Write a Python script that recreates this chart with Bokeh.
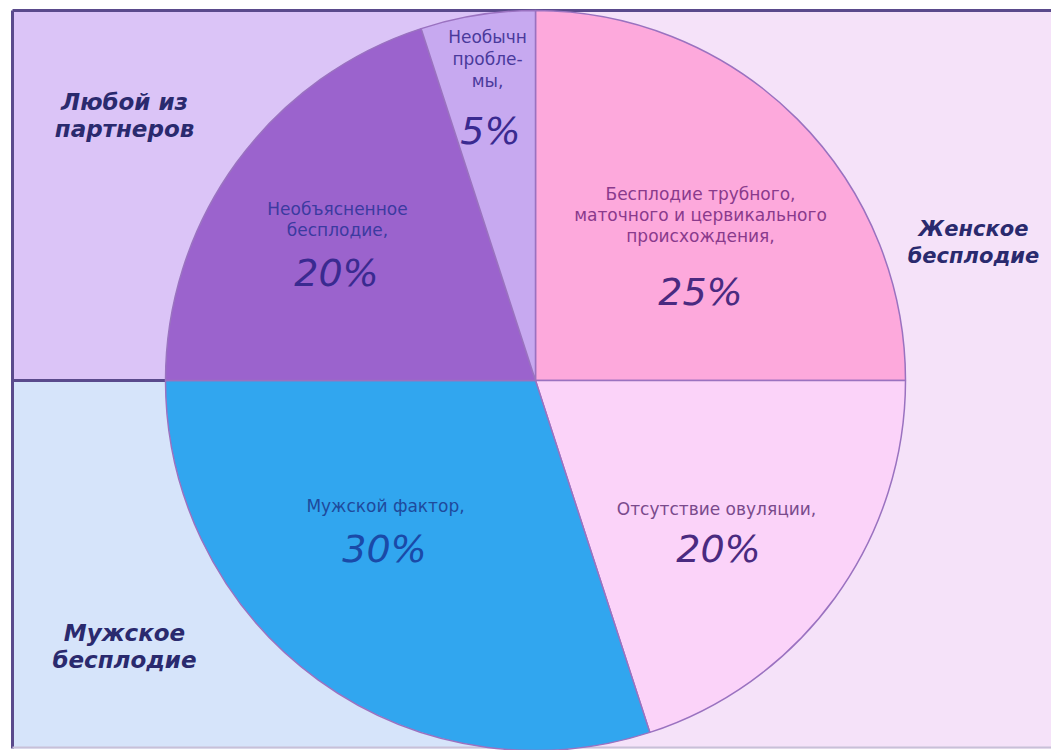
import numpy as np
from bokeh.plotting import figure
from bokeh.models import Range1d, ColumnDataSource
from bokeh.core.properties import value
from bokeh.embed import file_html
from bokeh.resources import INLINE

# ---- data ----
slice_names = ["Бесплодие трубного,\nматочного и цервикального\nпроисхождения,",
               "Отсутствие овуляции,",
               "Мужской фактор,",
               "Необъясненное\nбесплодие,",
               "Необычн\nпробле-\nмы,"]
slice_values = [25, 20, 30, 20, 5]
slice_colors = ["#fda9dc", "#fbd3f9", "#31a6ef", "#9b63cd", "#c7a9f0"]
name_colors = ["#8a3a8c", "#7a4a8c", "#1f4a9c", "#3c3aa0", "#4a3a9c"]
pct_colors = ["#4a2a80", "#4a2a80", "#1a4aa8", "#3a2a90", "#3a2a90"]
group_labels = ["Любой из\nпартнеров", "Женское\nбесплодие", "Мужское\nбесплодие"]

# ---- layout (screen pixels; y measured from top of page) ----
W, H = 1051, 750
def Y(py):
    return H - py

cx, cy, R = 535, 380, 370
name_xy = [(700, 193), (716, 508), (385, 505), (337, 208), (487, 36)]
pct_xy = [(700, 291), (718, 548), (384, 548), (336, 272), (490, 130)]
name_line_h = [21, 21, 21, 21, 22]
group_xy = [(124, 101), (973, 228), (124, 632)]
group_size = ["23px", "21px", "23px"]

p = figure(width=W, height=H, x_range=Range1d(0, W), y_range=Range1d(0, H),
           output_backend="svg", toolbar_location=None, min_border=0)
p.axis.visible = False
p.grid.visible = False
p.outline_line_color = None
p.background_fill_color = "white"
p.border_fill_color = "white"

# backgrounds
p.quad(left=[12, 12, 535], right=[535, 535, 1060], top=[Y(10), Y(380), Y(10)],
       bottom=[Y(380), Y(748), Y(748)], fill_color=["#dbc4f7", "#d6e4fa", "#f5e2f9"],
       line_color=None)
# frame lines
p.segment(x0=[12, 12, 12], y0=[Y(10), Y(10), Y(380)], x1=[1060, 12, 535],
          y1=[Y(10), Y(748), Y(380)], line_color="#5a4a8c", line_width=3)
p.segment(x0=[12], y0=[Y(747)], x1=[1060], y1=[Y(747)], line_color="#c8c0d8", line_width=2)

# pie
vals = np.array(slice_values, dtype=float)
cum = np.concatenate([[0], np.cumsum(vals)]) / vals.sum()
start = np.pi / 2 - cum[:-1] * 2 * np.pi
end = np.pi / 2 - cum[1:] * 2 * np.pi
src = ColumnDataSource(dict(start=start, end=end, color=slice_colors))
p.wedge(x=cx, y=Y(cy), radius=R, start_angle="start", end_angle="end", direction="clock",
        fill_color="color", line_color="#9a72c0", line_width=1.5, source=src)

# slice labels
for i in range(len(slice_values)):
    lines = slice_names[i].split("\n")
    x0, y0 = name_xy[i]
    ys = [Y(y0 + k * name_line_h[i]) for k in range(len(lines))]
    p.text(x=[x0] * len(lines), y=ys, text=lines, text_align="center", text_baseline="middle",
           text_font=value("DejaVu Sans"), text_font_size="17px", text_color=name_colors[i])
    px, py = pct_xy[i]
    p.text(x=[px], y=[Y(py)], text=[f"{slice_values[i]}%"], text_align="center",
           text_baseline="middle", text_font=value("DejaVu Sans"), text_font_size="38px",
           text_font_style="italic", text_color=pct_colors[i])

# group labels
for i, g in enumerate(group_labels):
    lines = g.split("\n")
    gx, gy = group_xy[i]
    ys = [Y(gy + k * 27) for k in range(len(lines))]
    p.text(x=[gx] * len(lines), y=ys, text=lines, text_align="center", text_baseline="middle",
           text_font=value("DejaVu Sans"), text_font_size=group_size[i],
           text_font_style="bold italic", text_color="#2a2a6e")

open("out.html", "w").write(file_html(p, INLINE))
